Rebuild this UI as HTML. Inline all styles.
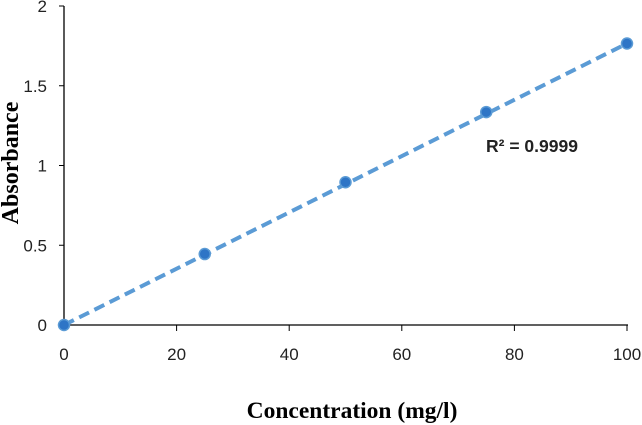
<!DOCTYPE html>
<html><head><meta charset="utf-8"><style>
body{margin:0;background:#fff;}
svg{display:block;font-family:"Liberation Sans",sans-serif;}
</style></head><body>
<svg id="chart" width="642" height="425"></svg>
<script>
const xValues=[0,25,50,75,100];
const yValues=[0,0.445,0.895,1.335,1.765];
const xTicks=[0,20,40,60,80,100];
const yTicks=[0,0.5,1,1.5,2];
const yTickLabels=["0","0.5","1","1.5","2"];
const ns="http://www.w3.org/2000/svg";
const svg=document.getElementById('chart');
const X0=64,X1=627,Y0=325,Y1=6;
const sx=v=>X0+(v-0)/100*(X1-X0);
const sy=v=>Y0-(v/2)*(Y0-Y1);
function mk(tag,attrs,parent){const e=document.createElementNS(ns,tag);for(const k in attrs)e.setAttribute(k,attrs[k]);(parent||svg).appendChild(e);return e;}
let e;
e=mk('line',{x1:X0,y1:Y1,x2:X0,y2:Y0,stroke:'#000','stroke-width':1.3});


e=mk('line',{x1:X0,y1:Y0,x2:X1+1,y2:Y0,stroke:'#000','stroke-width':1.3});


yTicks.forEach((t,i)=>{
 e=mk('line',{x1:X0-5,y1:sy(t),x2:X0,y2:sy(t),stroke:'#000','stroke-width':1});
 
 
 e=mk('text',{x:X0-17,y:sy(t)+6,'text-anchor':'end','font-size':17,fill:'#222'});
 e.textContent=yTickLabels[i];
 
 
});
xTicks.forEach(t=>{
 e=mk('line',{x1:sx(t),y1:Y0,x2:sx(t),y2:Y0+6,stroke:'#000','stroke-width':1});
 
 
 e=mk('text',{x:sx(t),y:Y0+35,'text-anchor':'middle','font-size':17,fill:'#222'});
 e.textContent=String(t);
 
 
});
e=mk('line',{x1:sx(xValues[0]),y1:sy(yValues[0]),x2:sx(xValues[xValues.length-1]),y2:sy(yValues[yValues.length-1]),stroke:'#5b9bd5','stroke-width':4,'stroke-dasharray':'11,6'});


xValues.forEach((x,i)=>{
 e=mk('circle',{cx:sx(x),cy:sy(yValues[i]),r:5.5,fill:'#2e75c6',stroke:'#5b9bd5','stroke-width':1.5});
 
 
});
e=mk('text',{x:486,y:152,'font-size':17.5,'font-weight':'bold',fill:'#222'});
e.textContent='R² = 0.9999';


e=mk('text',{x:352,y:418,'text-anchor':'middle','font-size':23.5,'font-weight':'bold','font-family':'"Liberation Serif",serif'});
e.textContent='Concentration (mg/l)';


e=mk('text',{x:0,y:0,'text-anchor':'middle','font-size':24,'font-weight':'bold','font-family':'"Liberation Serif",serif',transform:'translate(18,163) rotate(-90)'});
e.textContent='Absorbance';


</script>
</body></html>
